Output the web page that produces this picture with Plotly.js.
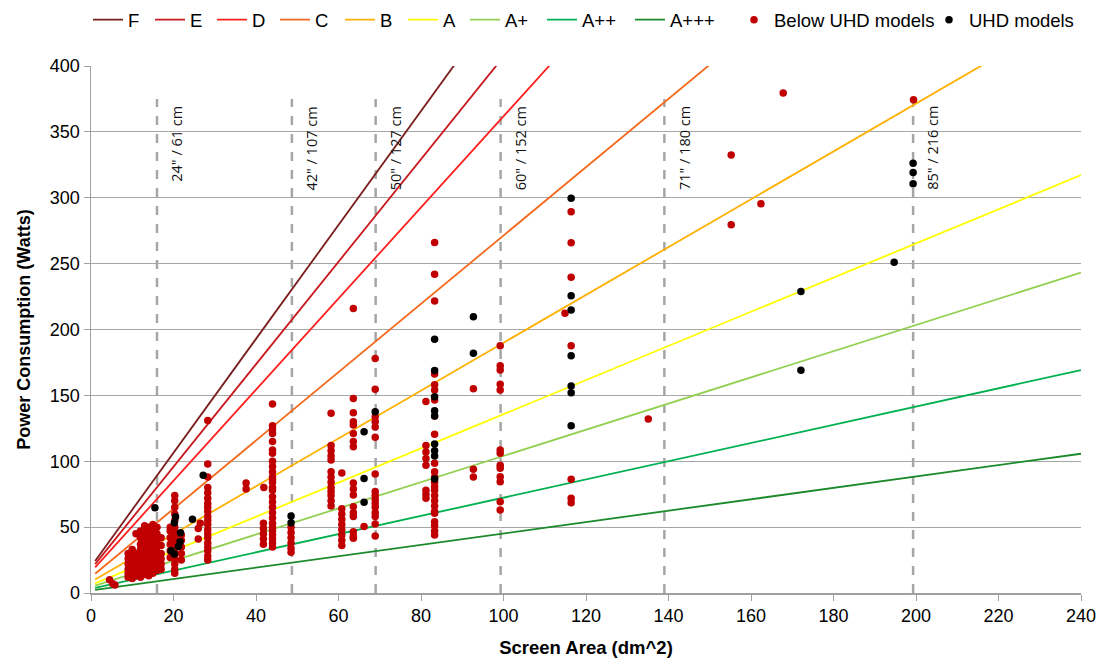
<!DOCTYPE html>
<html>
<head>
<meta charset="utf-8">
<script src="https://cdn.plot.ly/plotly-3.0.1.min.js"></script>
<style>html,body{margin:0;padding:0;background:#fff;}#chart{width:1103px;height:664px;}</style>
</head>
<body>
<div id="chart"></div>
<script>
// Energy class lines (endpoints, at screen area 1 and 240 dm^2)
const classNames = ["F", "E", "D", "C", "B", "A", "A+", "A++", "A+++"];
const classColors = ["#7a1c1c", "#c8171d", "#ff1f1f", "#f4691c", "#ffb000", "#ffff00", "#92d050", "#00b050", "#1b8a2a"];
const lineX = [1, 240];
const lineStartY = [24.3, 21.9, 19.5, 14.6, 10.2, 7.3, 5.6, 3.9, 2.4];
const lineEndY = [1057.4, 951.7, 845.9, 634.4, 444.1, 317.2, 243.2, 169.2, 105.7];

// Screen-size reference lines
const sizeX = [16.0, 48.7, 69.0, 99.3, 139.0, 199.3];
const sizeLabels = ["24\" / 61 cm", "42\" / 107 cm", "50\" / 127 cm", "60\" / 152 cm", "71\" / 180 cm", "85\" / 216 cm"];
const sizeTop = 375;

// Below UHD models
const belowX = [
  4.5, 5.3, 5.8,
  9, 9, 9, 9, 9, 9,
  10, 10, 10, 10, 10, 10, 10,
  11, 11, 11, 11, 11, 10.9,
  12, 12, 12, 12, 12, 12, 12, 12, 12, 12, 12,
  13, 13, 13, 13, 13, 13, 13, 13, 13, 13, 13, 13, 13,
  14, 14, 14, 14, 14, 14, 14, 14, 14, 14, 14, 14, 14,
  15, 15, 15, 15, 15, 15, 15, 15, 15, 15, 15, 15, 15,
  16, 16, 16, 16, 16, 16, 16, 16, 16,
  17, 17, 17, 17, 17, 17,
  19.2, 19.2, 19.2, 19.2, 19.2, 19.2,
  20.3, 20.3, 20.3, 20.3, 20.3, 20.3, 20.3, 20.3, 20.3, 20.3, 20.3, 20.3, 20.3, 20.3, 20.3,
  21.9, 21.9, 21.9, 21.9, 21.9,
  26.5, 26, 26,
  28.3, 28.3, 28.3, 28.3, 28.3, 28.3, 28.3, 28.3, 28.3, 28.3, 28.3, 28.3, 28.3, 28.3, 28.3, 28.3, 28.3, 28.3, 28.3, 28.3,
  37.6, 37.6, 41.9,
  41.8, 41.8, 41.8, 41.8, 41.8,
  44, 44, 44, 44, 44, 44, 44, 44, 44, 44, 44, 44, 44, 44, 44, 44, 44, 44, 44, 44, 44, 44, 44, 44, 44, 44, 44,
  48.5, 48.5, 48.5, 48.5, 48.5, 48.5,
  58.2, 58.2, 58.2, 58.2, 58.2, 58.2, 58.2, 58.2, 58.2, 58.2, 58.2, 58.2, 58.2,
  60.8, 60.8, 60.8, 60.8, 60.8, 60.8, 60.8, 60.8, 60.8,
  63.6, 63.6, 63.6, 63.6, 63.6, 63.6, 63.6, 63.6, 63.6, 63.6, 63.6, 63.6, 63.6, 63.6, 63.6, 63.6, 63.6,
  66.2,
  68.9, 68.9, 68.9, 68.9, 68.9, 68.9, 68.9, 68.9, 68.9, 68.9, 68.9, 68.9, 68.9, 68.9, 68.9, 68.9,
  81.2, 81.2, 81.2, 81.2, 81.2, 81.2, 81.2, 81.2,
  83.3, 83.3, 83.3, 83.3, 83.3, 83.3, 83.3, 83.3, 83.3, 83.3, 83.3, 83.3, 83.3, 83.3, 83.3, 83.3, 83.3, 83.3, 83.3, 83.3, 83.3, 83.3, 83.3, 83.3,
  92.7, 92.7, 92.7,
  99.2, 99.2, 99.2, 99.2, 99.2, 99.2, 99.2, 99.2, 99.2, 99.2, 99.2, 99.2, 99.2,
  116.4, 116.4, 116.4, 116.4, 116.4, 116.4, 116.4, 114.9,
  135.1, 155.2, 155.2, 162.4, 167.8, 199.4
];
const belowY = [
  10, 7, 6,
  12, 15, 18, 22, 26, 30,
  11, 14, 17, 20, 24, 28, 33,
  13, 16, 20, 25, 30, 45,
  12, 15, 18, 21, 24, 27, 30, 33, 37, 42, 47,
  14, 17, 20, 23, 26, 29, 32, 35, 38, 41, 44, 48, 51,
  13, 16, 19, 22, 25, 28, 31, 34, 37, 40, 43, 46, 50,
  15, 18, 21, 24, 27, 30, 33, 36, 39, 42, 45, 48, 52,
  17, 20, 23, 27, 31, 35, 40, 45, 50,
  18, 22, 26, 30, 36, 42,
  27, 32, 37, 42, 47, 50,
  15, 18, 22, 26, 30, 34, 38, 42, 46, 50, 55, 60, 65, 70, 74,
  25, 30, 35, 40, 44,
  53, 49, 41,
  131, 98, 88, 80, 76, 72, 68, 65, 62, 58, 55, 52, 48, 45, 42, 38, 35, 32, 28, 25,
  83.5, 79, 80,
  53, 49, 45, 41, 37,
  143.5, 127, 124, 121, 115, 108.5, 106, 100, 96, 92, 88, 86, 84, 80, 78, 73, 69, 65, 61, 57, 53, 50, 47, 44, 41, 38, 35,
  50, 46, 42, 38, 34, 31,
  136.4, 112, 108, 104, 101, 92, 88, 84, 80, 77, 74, 70, 66,
  91, 64, 60, 56, 52, 48, 44, 40, 36,
  216, 147.7, 136.9, 130, 127.5, 121, 115, 111, 83.5, 79, 74.4, 65.5, 61, 58, 46.5, 43, 41.5,
  50.4,
  178, 154.6, 133.8, 130, 126, 118.2, 90.3, 77, 74, 71, 68, 65, 61, 58, 52.4, 43.3,
  145.3, 112, 107, 102, 97, 78, 75, 72,
  266, 242, 221.6, 166.2, 158, 154, 146.5, 134.3, 120.4, 98.4, 92, 88, 84, 80.7, 78, 74, 70, 66, 62, 60.5, 54, 51, 47, 44,
  155, 94, 88,
  187.7, 172.5, 169.3, 158.4, 154, 108.5, 106, 97, 94.6, 88.3, 84.5, 69.3, 63,
  289.4, 265.9, 239.6, 187.7, 86.3, 71.9, 68.5, 212.3,
  132.1, 332.4, 279.5, 295.5, 379.5, 374.4
];

// UHD models
const uhdX = [15.5, 20.5, 20.2, 21.7, 21.6, 21.2, 19.4, 20.2, 24.6, 27.2, 48.5, 48.5,
  66.2, 66.2, 66.2, 68.9,
  83.3, 83.3, 83.3, 83.3, 83.3, 83.3, 83.3, 83.3, 83.3,
  92.7, 92.7,
  116.4, 116.4, 116.4, 116.4, 116.4, 116.4, 116.4,
  172.1, 172.1, 194.7, 199.3, 199.3, 199.3];
const uhdY = [64.7, 57.9, 53.4, 45.8, 38.9, 35.2, 32.1, 29.6, 55.9, 89.3, 58.4, 53.4,
  122.4, 87, 68.8, 137.6,
  192.6, 168.8, 149, 138.4, 134.3, 113, 108, 104, 86.6,
  209.7, 181.9,
  299.6, 225.7, 214.8, 180.1, 157.1, 152, 127,
  228.9, 169, 251, 326.1, 319.2, 310.6];

const font = "Liberation Sans, Arial, sans-serif";

// legend entry left edges, in pixels of the page (layout only)
const legendPx = [88, 150, 212, 275, 340, 403, 465, 542, 630, 734, 929];
const plotLeft = 91, plotWidth = 990;

const traces = [];
classNames.forEach((n, i) => {
  traces.push({
    type: "scatter", mode: "lines", name: n,
    x: lineX, y: [lineStartY[i], lineEndY[i]],
    line: {color: classColors[i], width: 1.8},
    hoverinfo: "skip",
    legend: i === 0 ? "legend" : "legend" + (i + 1)
  });
});
traces.push({
  type: "scatter", mode: "markers", name: "Below UHD models",
  x: belowX, y: belowY,
  marker: {color: "#c00000", size: 7.5},
  legend: "legend10"
});
traces.push({
  type: "scatter", mode: "markers", name: "UHD models",
  x: uhdX, y: uhdY,
  marker: {color: "#000000", size: 7.5},
  legend: "legend11"
});

const shapes = sizeX.map(x => ({
  type: "line", xref: "x", yref: "y", x0: x, x1: x, y0: 0, y1: sizeTop,
  line: {color: "#a6a6a6", width: 2.5, dash: "dash"}, layer: "below"
}));
const annotations = sizeX.map((x, i) => ({
  xref: "x", yref: "y", x: x, y: sizeTop - 4, text: sizeLabels[i],
  textangle: -90, showarrow: false, xanchor: "left", yanchor: "top", xshift: 8,
  font: {family: "Open Sans, DejaVu Sans, sans-serif", size: 14.5, color: "#111"}
}));

const layout = {
  width: 1103, height: 664,
  margin: {l: 91, r: 22, t: 66, b: 71, autoexpand: false},
  paper_bgcolor: "#fff", plot_bgcolor: "#fff",
  showlegend: true,
  xaxis: {
    range: [0, 240], dtick: 20, tick0: 0, showgrid: false, zeroline: false,
    showline: true, linecolor: "#a0a0a0", linewidth: 1.5,
    ticks: "outside", ticklen: 6, tickcolor: "#a0a0a0",
    tickfont: {family: font, size: 18, color: "#000"},
    title: {text: "<b>Screen Area (dm^2)</b>", font: {family: font, size: 18.5, color: "#000"}, standoff: 16}
  },
  yaxis: {
    range: [0, 400], dtick: 50, tick0: 0, showgrid: true, gridcolor: "#a6a6a6", gridwidth: 1,
    zeroline: false, showline: true, linecolor: "#a0a0a0", linewidth: 1.5,
    ticks: "outside", ticklen: 6, tickcolor: "#a0a0a0",
    tickfont: {family: font, size: 18, color: "#000"},
    title: {text: "<b>Power Consumption (Watts)</b>", font: {family: font, size: 18, color: "#000"}, standoff: 14}
  },
  shapes: shapes,
  annotations: annotations
};
legendPx.forEach((px, i) => {
  const key = i === 0 ? "legend" : "legend" + (i + 1);
  layout[key] = {
    orientation: "h", x: (px - plotLeft) / plotWidth, xanchor: "left",
    y: 1.087, yanchor: "middle", bgcolor: "rgba(0,0,0,0)", borderwidth: 0,
    font: {family: font, size: 18.5, color: "#000"}
  };
});

Plotly.newPlot("chart", traces, layout, {displayModeBar: false, staticPlot: true});
</script>
</body>
</html>
